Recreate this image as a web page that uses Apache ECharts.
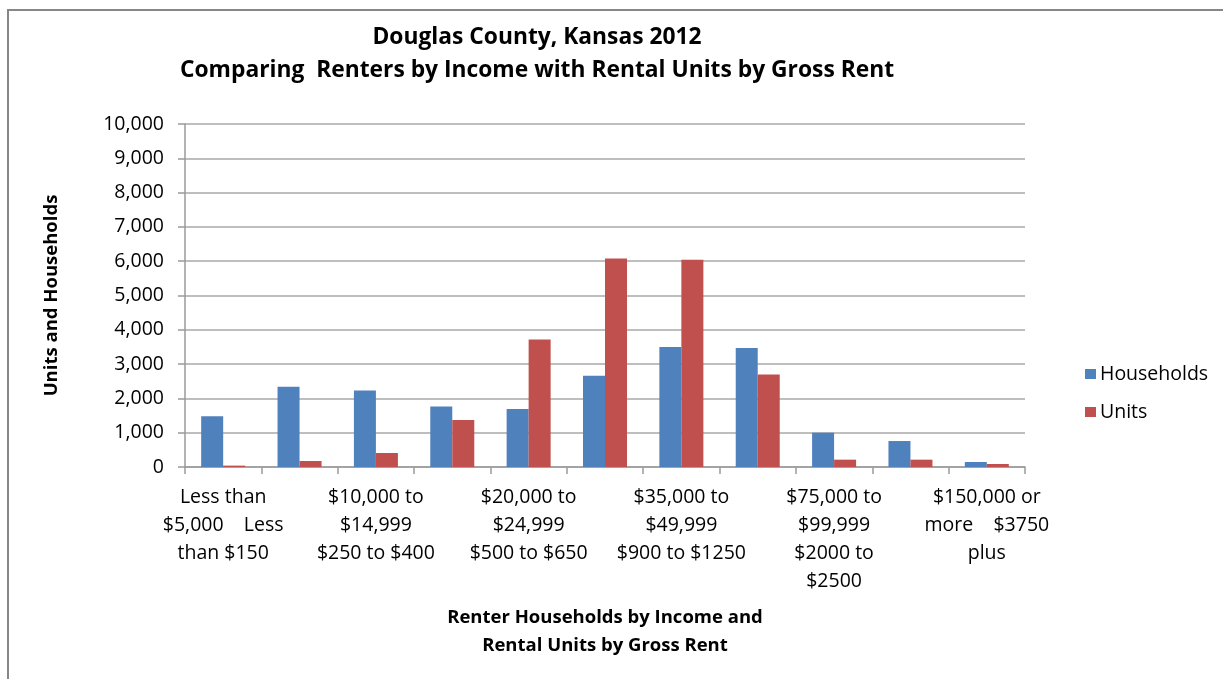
<!DOCTYPE html>
<html>
<head>
<meta charset="utf-8">
<script src="https://cdn.jsdelivr.net/npm/echarts@6/dist/echarts.min.js"></script>
<style>html,body{margin:0;padding:0;background:#fff}#c{width:1223px;height:679px}</style>
</head>
<body>
<div id="c"></div>
<script>
const categories = [
  "Less than\n$5,000    Less\nthan $150",
  "$5,000 to\n$9,999\n$150 to $250",
  "$10,000 to\n$14,999\n$250 to $400",
  "$15,000 to\n$19,999\n$400 to $500",
  "$20,000 to\n$24,999\n$500 to $650",
  "$25,000 to\n$34,999\n$650 to $900",
  "$35,000 to\n$49,999\n$900 to $1250",
  "$50,000 to\n$74,999\n$1250 to $2000",
  "$75,000 to\n$99,999\n$2000 to\n$2500",
  "$100,000 to\n$149,999\n$2500 to $3750",
  "$150,000 or\nmore    $3750\nplus"
];
const households = [1476, 2340, 2233, 1767, 1690, 2660, 3495, 3466, 1000, 757, 146];
const units = [40, 175, 408, 1369, 3718, 6078, 6039, 2699, 214, 214, 87];
const yTicks = { min: 0, max: 10000, interval: 1000 };

const font = "'Open Sans', 'Noto Sans', sans-serif";
const chart = echarts.init(document.getElementById('c'), null, { renderer: 'canvas' });
chart.setOption({
  animation: false,
  backgroundColor: '#ffffff',
  graphic: [{
    type: 'rect', shape: { x: 8, y: 10, width: 1400, height: 1000 },
    style: { fill: 'none', stroke: '#878787', lineWidth: 2 }, silent: true
  }],
  title: {
    text: 'Douglas County, Kansas 2012\nComparing  Renters by Income with Rental Units by Gross Rent',
    left: 532, top: 16, textAlign: 'center',
    textStyle: { fontFamily: font, fontWeight: 'bold', fontSize: 22.8, lineHeight: 33, color: '#000' }
  },
  legend: {
    orient: 'vertical', left: 1080, top: 359, itemGap: 18, itemWidth: 11, itemHeight: 10, icon: 'rect',
    textStyle: { fontFamily: font, fontSize: 19.5, color: '#000', padding: [0, 0, 0, -1] },
    data: ['Households', 'Units']
  },
  grid: { left: 185, right: 198, top: 124, bottom: 212, containLabel: false },
  xAxis: {
    type: 'category', data: categories,
    name: 'Renter Households by Income and\nRental Units by Gross Rent',
    nameLocation: 'middle', nameGap: 137,
    nameTextStyle: { fontFamily: font, fontWeight: 'bold', fontSize: 18.5, lineHeight: 28, color: '#000' },
    axisLine: { lineStyle: { color: '#9a9a9a', width: 1.5 } },
    axisTick: { show: true, alignWithLabel: false, interval: 0, length: 7, lineStyle: { color: '#9a9a9a', width: 1.5 } },
    axisLabel: { interval: 1, margin: 16, fontFamily: font, fontSize: 19.5, lineHeight: 28, color: '#000' }
  },
  yAxis: {
    type: 'value', min: yTicks.min, max: yTicks.max, interval: yTicks.interval,
    name: 'Units and Households', nameLocation: 'middle', nameGap: 124, nameRotate: 90,
    nameTextStyle: { fontFamily: font, fontWeight: 'bold', fontSize: 18.5, color: '#000' },
    axisLine: { show: true, lineStyle: { color: '#9a9a9a', width: 1.5 } },
    axisTick: { show: true, length: 7, lineStyle: { color: '#9a9a9a', width: 1.5 } },
    axisLabel: { margin: 21, fontFamily: font, fontSize: 19.5, color: '#000',
      formatter: v => v.toLocaleString('en-US') },
    splitLine: { lineStyle: { color: '#a8a8a8', width: 1.5 } }
  },
  series: [
    { name: 'Households', type: 'bar', data: households, barWidth: 22, barGap: '0%',
      itemStyle: { color: '#4F81BD' } },
    { name: 'Units', type: 'bar', data: units, barWidth: 22, barGap: '0%',
      itemStyle: { color: '#C0504D' } }
  ]
});
</script>
</body>
</html>
